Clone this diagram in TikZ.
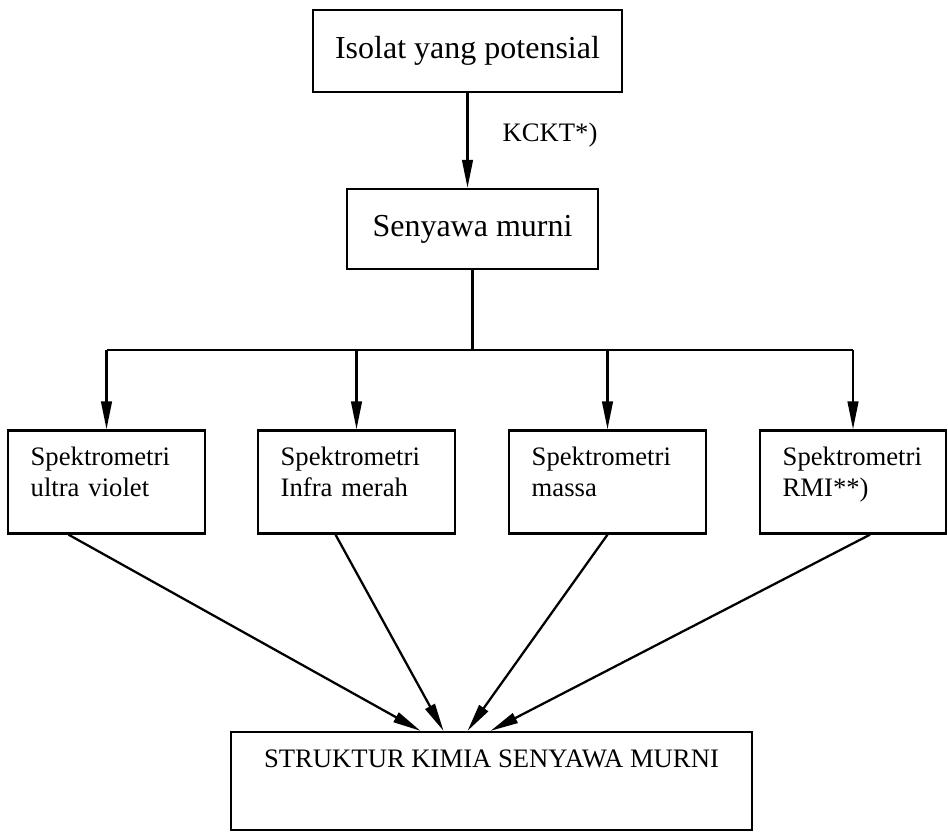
\documentclass[tikz,border=0pt]{standalone}
\usepackage{fontspec}
\setmainfont{Liberation Serif}
\usetikzlibrary{arrows.meta,calc}
\tikzset{
	kotak/.style={draw,line width=1.7pt,rectangle,inner sep=0pt},
	spek/.style={kotak,align=left,text width=113.75pt,inner xsep=17pt,minimum height=77.25pt,font=\fontsize{20}{23}\selectfont,execute at end node={\\[-8pt]\mbox{}}},
	panah/.style={line width=1.7pt,-{Triangle[length=21pt,width=8pt]}},
}
\begin{document}
\begin{tikzpicture}[x=0.75pt,y=-0.75pt,line width=1.7pt]
			\useasboundingbox (0,0) rectangle (948,838);
			\node[kotak,minimum width=231.75pt,minimum height=61.5pt,font=\fontsize{24}{28}\selectfont] (isolat) at (467.5,51) {Isolat yang potensial};
			\node[kotak,minimum width=188.25pt,minimum height=60pt,font=\fontsize{24}{28}\selectfont] (murni) at (472.5,229) {Senyawa murni};
			\draw[panah] (isolat.south) -- (isolat.south |- murni.north);
			\node[font=\fontsize{20}{24}\selectfont] (kckt) at (550,135) {KCKT*)};
			\node[spek] (spekuv) at (106.5,482) {Spektrometri\\ultra violet};
			\node[spek] (spekir) at (356.5,482) {Spektrometri\\Infra merah};
			\node[spek] (spekms) at (607.5,482) {Spektrometri\\massa};
			\node[spek,text width=105.5pt] (spekrmi) at (853,482) {Spektrometri\\RMI**)};
			\node[kotak,align=center,minimum width=390.75pt,minimum height=73.5pt,font=\fontsize{20}{26}\selectfont] (struktur) at (491.5,781) {STRUKTUR KIMIA SENYAWA MURNI\\\strut};
			\coordinate (bar) at (0,350);
			\draw (murni.south) -- (murni.south |- bar);
			\draw (spekuv.north |- bar) -- (spekrmi.north |- bar);
			\foreach \b in {spekuv,spekir,spekms,spekrmi}
				\draw[panah] (\b.north |- bar) -- (\b.north);
			\draw[panah] ($(spekuv.south)+(-38,0)$) -- ($(struktur.north)+(-71,0)$);
			\draw[panah] ($(spekir.south)+(-21,0)$) -- ($(struktur.north)+(-48,0)$);
			\draw[panah] (spekms.south) -- ($(struktur.north)+(-24,0)$);
			\draw[panah] ($(spekrmi.south)+(17,0)$) -- ($(struktur.north)+(-1,0)$);
		\end{tikzpicture}
\end{document}
